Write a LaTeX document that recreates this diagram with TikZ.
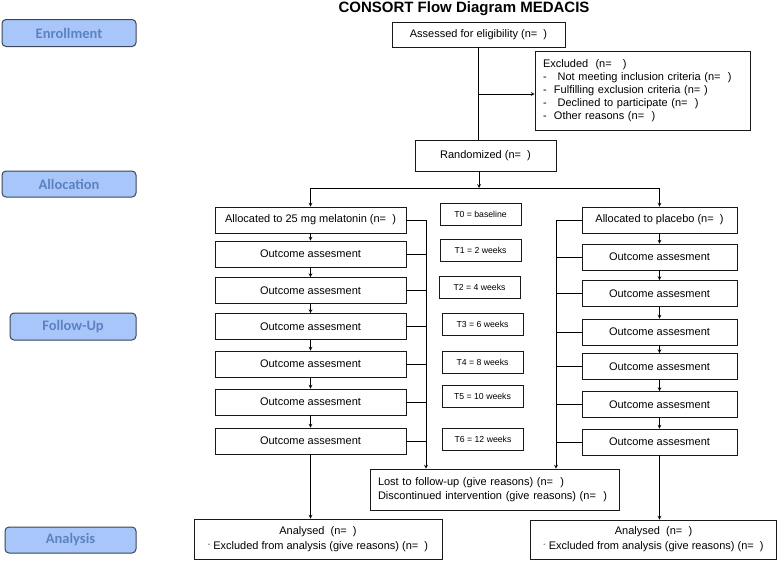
\documentclass[tikz,border=0pt]{standalone}
\usepackage{fontspec}
\setmainfont{Liberation Sans}
\newfontfamily\phasefont{Carlito}
\usepackage{tikz}
\definecolor{phasefill}{HTML}{A9C6FA}
\definecolor{phasetext}{HTML}{5B82C2}
\definecolor{phaseline}{HTML}{3A4656}

\begin{document}
\begin{tikzpicture}[
            x=1pt, y=-1pt,
            >=stealth,
            box/.style={draw=black!90, line width=0.8pt, inner sep=0pt,
                        font=\fontsize{11}{13}\selectfont, align=center},
            colA/.style={box, minimum width=191pt, minimum height=26pt},
            colB/.style={box, minimum width=155pt, minimum height=26pt},
            timebox/.style={draw=black!90, line width=0.8pt, inner sep=0pt,
                        minimum width=81pt, minimum height=22pt,
                        font=\fontsize{8.7}{10}\selectfont},
            phase/.style={draw=phaseline, fill=phasefill, rounded corners=4pt,
                        line width=1pt, minimum height=27pt, text=phasetext,
                        font=\phasefont\bfseries\fontsize{14.5}{16}\selectfont},
            arrow/.style={->, line width=0.7pt},
            link/.style={line width=0.7pt}
            ]
            \useasboundingbox (0,0) rectangle (778,560);

            % phases
            \node[phase, minimum width=134pt] (enrol) at (69,33) {Enrollment};
            \node[phase, minimum width=134pt, minimum height=26pt] (alloc) at (69,184) {Allocation};
            \node[phase, minimum width=126pt] (follow) at (73,326.5) {Follow-Up};
            \node[phase, minimum width=131pt, minimum height=26pt] (analysis) at (70.5,540) {Analysis};

            \node[font=\bfseries\fontsize{15}{17}\selectfont] (title) at (464,8.5) {CONSORT Flow Diagram MEDACIS};

            % enrollment
            \node[box, minimum width=173pt, minimum height=25pt] (assessed) at (478.5,34.5) {Assessed for eligibility (n=~~)};
            \node[box, minimum width=215pt, minimum height=79pt, inner xsep=8pt, text width=199pt, align=left] (excl) at (642.5,90.5)
                {Excluded~~(n=~~~)\\
                 -~~~Not meeting inclusion criteria (n=~~)\\
                 -~~Fulfilling exclusion criteria (n=~)\\
                 -~~~Declined to participate (n=~~)\\
                 -~~Other reasons (n=~~)};
            \node[box, minimum width=141pt, minimum height=31pt] (rand) at (485.5,155.5) {Randomized (n=~~)};
            \coordinate (split) at (479,188);
            \draw[link] (assessed.south) -- (assessed.south |- rand.north);
            \draw[arrow] (479,94) -- (excl.west |- 479,94);
            \draw[arrow] (rand.south -| split) -- (split);

            % melatonin arm
            \node[colA] (a0) at (310.5,220) {Allocated to 25 mg melatonin (n=~~)};
            \foreach \i/\y in {1/254,2/290.5,3/326.5,4/364,5/402,6/441}
                \node[colA] (a\i) at (310.5,\y) {Outcome assesment};

            % placebo arm
            \node[colB] (b0) at (659.5,220) {Allocated to placebo (n=~~)};
            \foreach \i/\y in {1/257,2/293.5,3/332,4/366.5,5/404.5,6/442}
                \node[colB] (b\i) at (659.5,\y) {Outcome assesment};

            \draw[arrow] (split) -| (a0.north);
            \draw[arrow] (split) -| (b0.north);
            \foreach \i/\j in {0/1,1/2,2/3,3/4,4/5,5/6} {
                \draw[arrow] (a\i.south) -- (a\j.north);
                \draw[arrow] (b\i.south) -- (b\j.north);
            }

            % time points
            \foreach \n/\lab/\x/\y in {T0/baseline/480.5/214, T1/2 weeks/480.5/250.5,
                                      T2/4 weeks/479.5/287, T3/6 weeks/482.5/324.5,
                                      T4/8 weeks/482.5/362, T5/10 weeks/482.5/396,
                                      T6/12 weeks/483/439}
                \node[timebox] (\n) at (\x,\y) {\n{} = \lab};

            % losses
            \node[box, minimum width=249pt, minimum height=41pt, inner xsep=8pt, text width=233pt, align=left,
                  font=\fontsize{11}{14}\selectfont] (lost) at (494.5,489.5)
                {Lost to follow-up (give reasons) (n=~~)\\
                 Discontinued intervention (give reasons) (n=~~)};
            \coordinate (busA) at (426,220);
            \coordinate (busB) at (556,220);
            \foreach \i in {0,...,6} {
                \draw[link] (a\i.east) -- (a\i.east -| busA);
                \draw[link] (b\i.west) -- (b\i.west -| busB);
            }
            \draw[arrow] (busA) -- (busA |- lost.north);
            \draw[arrow] (busB) -- (busB |- lost.north);

            % analysis
            \node[box, minimum width=248pt, minimum height=40pt, font=\fontsize{11}{15}\selectfont] (anA) at (318,539)
                {Analysed~~(n=~~)\\\raisebox{0.5ex}{\scriptsize-} Excluded from analysis (give reasons) (n=~~)};
            \node[box, minimum width=246pt, minimum height=39pt, font=\fontsize{11}{15}\selectfont] (anB) at (653.5,539.5)
                {Analysed~~(n=~~)\\\raisebox{0.5ex}{\scriptsize-} Excluded from analysis (give reasons) (n=~~)};
            \draw[arrow] (a6.south) -- (a6.south |- anA.north);
            \draw[arrow] (b6.south) -- (b6.south |- anB.north);
        \end{tikzpicture}
\end{document}
